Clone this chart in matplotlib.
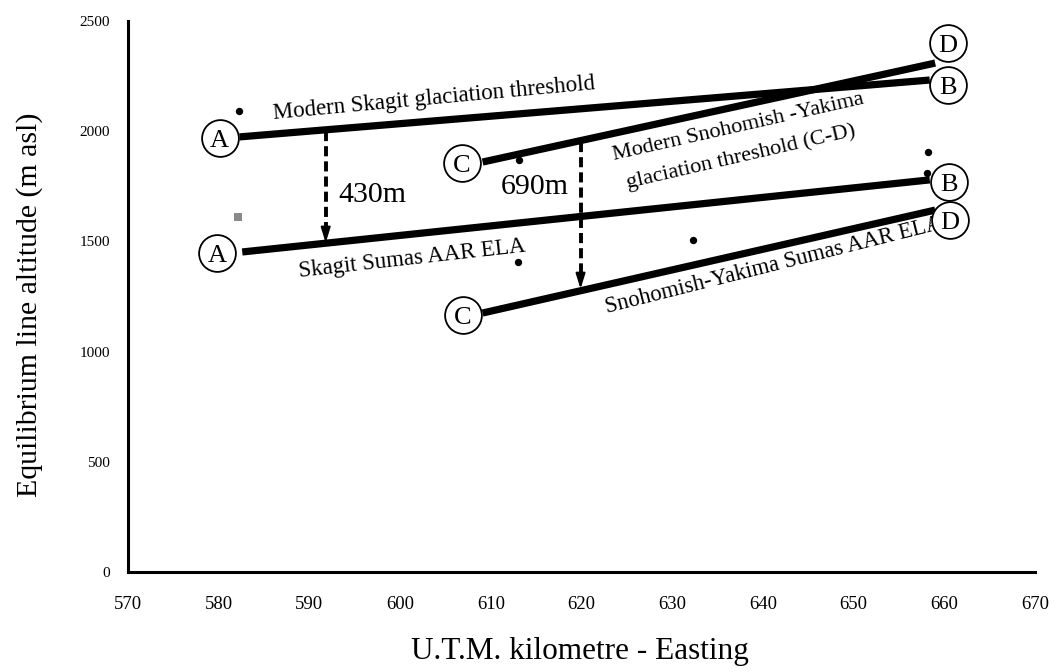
import numpy as np
import matplotlib
matplotlib.use("Agg")
import matplotlib.pyplot as plt

plt.rcParams['font.family'] = ['Liberation Serif', 'DejaVu Serif']

# Threshold / ELA trend lines (easting km, altitude m)
skagit_modern_x = [582.3, 658.4]
skagit_modern_y = [1974, 2232]
snoho_modern_x = [609.1, 659.0]
snoho_modern_y = [1860, 2309]
skagit_sumas_x = [582.6, 658.4]
skagit_sumas_y = [1452, 1779]
snoho_sumas_x = [609.1, 659.0]
snoho_sumas_y = [1175, 1642]

# Individual ELA observations
dots_x = [582.2, 613.1, 613.0, 632.3, 658.2, 658.1]
dots_y = [2092, 1869, 1407, 1506, 1906, 1810]
grey_dot_x = [582.1]
grey_dot_y = [1611]

# End-point labels of the transects
end_labels = ['A', 'A', 'C', 'C', 'D', 'B', 'B', 'D']
end_x = [580.1, 579.8, 606.8, 606.9, 660.4, 660.4, 660.5, 660.6]
end_y = [1969, 1447, 1856, 1166, 2400, 2210, 1770, 1597]

# ELA depression arrows
drop_x = [591.8, 619.9]
drop_top = [2003, 1950]
drop_bottom = [1493, 1284]
drop_labels = ['430m', '690m']

x_ticks = [570, 580, 590, 600, 610, 620, 630, 640, 650, 660, 670]
y_ticks = [0, 500, 1000, 1500, 2000, 2500]

fig = plt.figure(figsize=(10.55, 6.72), dpi=100)
ax = fig.add_axes([0.1213, 0.1488, 0.8597, 0.8200])
ax.set_xlim(570, 670)
ax.set_ylim(0, 2500)

for s in ['top', 'right']:
    ax.spines[s].set_visible(False)
for s in ['left', 'bottom']:
    ax.spines[s].set_linewidth(2.2)
    ax.spines[s].set_color('black')

ax.set_xticks(x_ticks)
ax.set_yticks(y_ticks)
ax.tick_params(axis='x', length=0, pad=17, labelsize=13.5)
ax.tick_params(axis='y', length=0, pad=13, labelsize=11)

line_kw = dict(color='black', lw=5.2, solid_capstyle='butt', zorder=3)
ax.plot(skagit_modern_x, skagit_modern_y, **line_kw)
ax.plot(snoho_modern_x, snoho_modern_y, **line_kw)
ax.plot(skagit_sumas_x, skagit_sumas_y, **line_kw)
ax.plot(snoho_sumas_x, snoho_sumas_y, **line_kw)

ax.scatter(dots_x, dots_y, s=28, color='black', zorder=4, linewidths=0)
ax.scatter(grey_dot_x, grey_dot_y, s=36, color='#8a8a8a', marker='s', zorder=4, linewidths=0)

# Circled letters at transect ends
ax.scatter(end_x, end_y, s=26.5 ** 2, facecolor='white', edgecolor='black',
           linewidths=1.3, zorder=5)
for lab, x, y in zip(end_labels, end_x, end_y):
    ax.annotate(lab, (x, y), xytext=(0, -6.3), textcoords='offset points',
                ha='center', va='baseline', fontsize=19, zorder=6)

# Dashed depression arrows
for x, top, bot in zip(drop_x, drop_top, drop_bottom):
    ax.plot([x, x], [top, bot + 40], color='black', lw=2.8,
            linestyle=(0, (2.6, 1.3)), dash_capstyle='butt', zorder=2)
    ax.annotate('', xy=(x, bot), xytext=(x, bot + 90),
                arrowprops=dict(arrowstyle='-|>,head_width=0.28,head_length=0.9',
                                color='black', lw=1.6, shrinkA=0, shrinkB=0),
                zorder=2)

ax.text(596.9, 1710, drop_labels[0], ha='center', va='center', fontsize=21.5)
ax.text(614.9, 1747, drop_labels[1], ha='center', va='center', fontsize=21.5)

# Line annotations
txt_kw = dict(ha='center', va='center', rotation_mode='anchor')
ax.text(603.7, 2146, 'Modern Skagit glaciation threshold', rotation=5.3, fontsize=16.5, **txt_kw)
ax.text(637.3, 2019, 'Modern Snohomish -Yakima', rotation=12.7, fontsize=16, **txt_kw)
ax.text(637.6, 1883, 'glaciation threshold (C-D)', rotation=13.0, fontsize=16, **txt_kw)
ax.text(601.3, 1420, 'Skagit Sumas AAR ELA', rotation=6.4, fontsize=16.5, **txt_kw)
ax.text(641.2, 1393, 'Snohomish-Yakima Sumas AAR ELA', rotation=14.1, fontsize=16.3, **txt_kw)

fig.text(580 / 1055, 1 - 652 / 672, 'U.T.M. kilometre - Easting', ha='center', va='center', fontsize=22.5)
fig.text(30 / 1055, 1 - 305 / 672, 'Equilibrium line altitude (m asl)', ha='center', va='center',
         rotation=90, fontsize=21.5)

fig.savefig('out.png', dpi=100, facecolor='white')
